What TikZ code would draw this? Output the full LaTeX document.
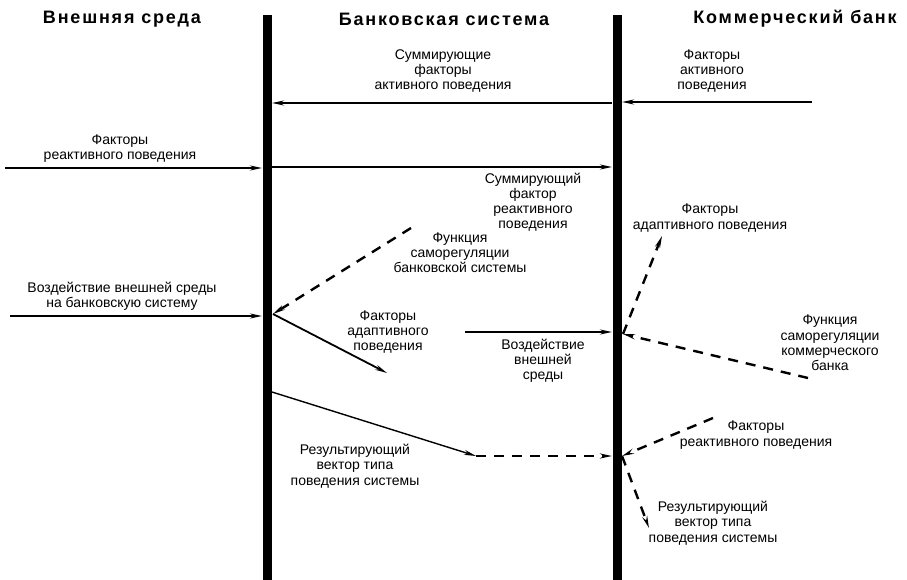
\documentclass[tikz,border=0pt]{standalone}
\usepackage{fontspec}
\setmainfont{Liberation Sans}
\newfontfamily\headfont[LetterSpace=10]{Liberation Sans}
\usetikzlibrary{arrows.meta}

\tikzset{
  bar/.style={line width=9pt},
  head/.style={font=\headfont\bfseries\fontsize{18}{20}\selectfont,inner sep=0pt},
  lbl/.style={font=\fontsize{14}{15.2}\selectfont,align=center,inner sep=0pt},
  flow/.style={line width=1.8pt,-{Stealth[length=12pt,width=5pt]}},
  dflow/.style={flow,line width=2.4pt,dash pattern=on 10pt off 8pt},
}

\begin{document}
\begin{tikzpicture}[x=1pt,y=-1pt]
\path[use as bounding box] (0,0) rectangle (907,580);
\fill[white] (0,0) rectangle (907,580);

% headings
\node[head] (hout) at (122,19) {Внешняя среда};
\node[head] (hsys) at (444,19) {Банковская система};
\node[head] (hbank) at (795,19) {Коммерческий банк};

% the two borders
\draw[bar] (267,15) -- (267,580);
\draw[bar] (617,15) -- (617,580);

% ends of the connectors
\coordinate (sumA) at (612,103);
\coordinate (sumB) at (272,103);
\coordinate (actA) at (812,102);
\coordinate (actB) at (622,102);
\coordinate (reaA) at (5,168);
\coordinate (reaB) at (262,168);
\coordinate (sreA) at (272,167);
\coordinate (sreB) at (612,167);
\coordinate (envA) at (10,316);
\coordinate (envB) at (262,316);
\coordinate (jsys) at (273,314);
\coordinate (fsys) at (411,228);
\coordinate (adpB) at (387,373);
\coordinate (resA) at (272,392);
\coordinate (resB) at (476,456);
\coordinate (resC) at (612,456);
\coordinate (envC) at (465,332);
\coordinate (envD) at (612,332);
\coordinate (jbank) at (623,334);
\coordinate (adpR) at (662,236);
\coordinate (fbank) at (808,378);
\coordinate (reaR) at (713,418);
\coordinate (jres) at (622,456);
\coordinate (resR) at (649,528);

% labels
\node[lbl] (lsum) at (443,71) {Суммирующие\\факторы\\активного поведения};
\node[lbl] (lact) at (712,71) {Факторы\\активного\\поведения};
\node[lbl] (lrea) at (120,149) {Факторы\\реактивного поведения};
\node[lbl] (lsre) at (533,202) {Суммирующий\\фактор\\реактивного\\поведения};
\node[lbl] (lfsys) at (460,253) {Функция\\саморегуляции\\банковской системы};
\node[lbl] (lenv) at (122,296) {Воздействие внешней среды\\на банковскую систему};
\node[lbl] (ladp) at (388,332) {Факторы\\адаптивного\\поведения};
\node[lbl] (lenvs) at (543,361) {Воздействие\\внешней\\среды};
\node[lbl] (lres) at (355,466) {Результирующий\\вектор типа\\поведения системы};
\node[lbl] (ladpR) at (710,218) {Факторы\\адаптивного поведения};
\node[lbl] (lfbank) at (830,343) {Функция\\саморегуляции\\коммерческого\\банка};
\node[lbl] (lreaR) at (756,435) {Факторы\\реактивного поведения};
\node[lbl] (lresR) at (713,523) {Результирующий\\вектор типа\\поведения системы};

% connectors
\draw[flow] (sumA) -- (sumB);
\draw[flow] (actA) -- (actB);
\draw[flow] (reaA) -- (reaB);
\draw[flow] (sreA) -- (sreB);
\draw[flow] (envA) -- (envB);
\draw[dflow] (fsys) -- (jsys);
\draw[flow] (jsys) -- (adpB);
\draw[flow,line width=1.4pt] (resA) -- (resB);
\draw[dflow] (resB) -- (resC);
\draw[flow] (envC) -- (envD);
\draw[dflow] (jbank) -- (adpR);
\draw[dflow] (fbank) -- (jbank);
\draw[dflow] (reaR) -- (jres);
\draw[dflow] (jres) -- (resR);
\end{tikzpicture}
\end{document}
